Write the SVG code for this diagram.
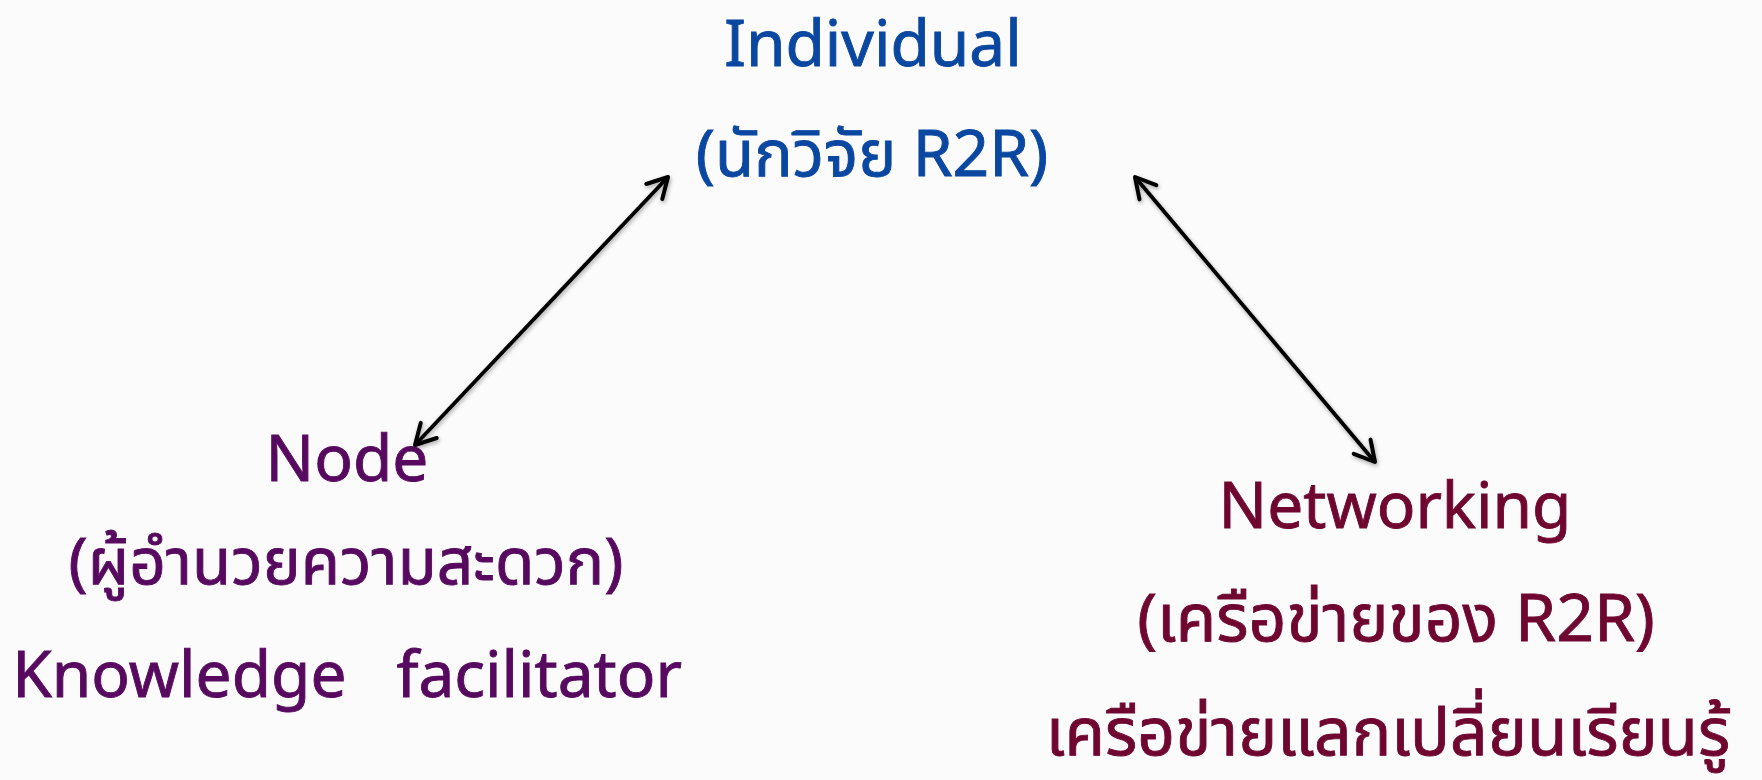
<svg xmlns="http://www.w3.org/2000/svg" width="1762" height="780" viewBox="0 0 1762 780">
<style>
.t{font-family:"Noto Sans","Noto Sans Thai","Open Sans",sans-serif;font-size:64px;text-anchor:middle;stroke-width:0.9px;paint-order:stroke}
.blue{fill:#0a47a0;stroke:#0a47a0}
.purple{fill:#56095e;stroke:#56095e}
.maroon{fill:#6e0630;stroke:#6e0630}
.conn{stroke:#000;stroke-width:3.8;fill:none;marker-start:url(#arr);marker-end:url(#arr);filter:url(#sh)}
</style>
<defs>
<marker id="arr" markerUnits="userSpaceOnUse" viewBox="-26 -14 30 28" refX="0" refY="0" markerWidth="30" markerHeight="28" orient="auto-start-reverse" overflow="visible">
<path d="M-20,-11 L0,0 L-20,11" fill="none" stroke="#000" stroke-width="4" stroke-linecap="round" stroke-linejoin="round"/>
</marker>
<filter id="sh" x="-10%" y="-10%" width="120%" height="120%">
<feGaussianBlur in="SourceAlpha" stdDeviation="2"/>
<feOffset dx="1" dy="2" result="b"/>
<feComponentTransfer><feFuncA type="linear" slope="0.35"/></feComponentTransfer>
<feMerge><feMergeNode/><feMergeNode in="SourceGraphic"/></feMerge>
</filter>
</defs>
<rect width="1762" height="780" fill="#fbfbfb"/>
<g id="individual">
<text class="t blue" x="873" y="66">Individual</text>
<text class="t blue" x="872" y="176">(นักวิจัย R2R)</text>
</g>
<g id="node">
<text class="t purple" x="347" y="481">Node</text>
<text class="t purple" x="346" y="584">(ผู้อำนวยความสะดวก)</text>
<text class="t purple" x="347" y="697" xml:space="preserve">Knowledge   facilitator</text>
</g>
<g id="networking">
<text class="t maroon" x="1395" y="528">Networking</text>
<text class="t maroon" x="1396" y="641" style="font-size:66px">(เครือข่ายของ R2R)</text>
<text class="t maroon" x="1388" y="755" style="font-size:66px">เครือข่ายแลกเปลี่ยนเรียนรู้</text>
</g>
<g id="connectors">
<line class="conn" x1="415" y1="445" x2="668" y2="177"/>
<line class="conn" x1="1135" y1="177" x2="1375" y2="462"/>
<line class="conn" x1="731" y1="610" x2="1030" y2="610"/>
</g>
</svg>
